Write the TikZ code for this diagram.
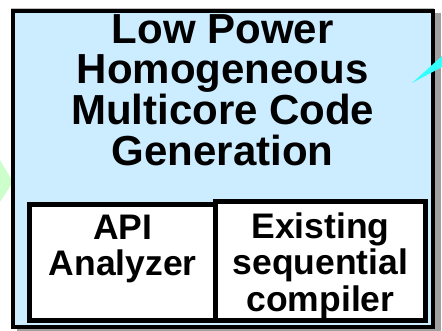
\documentclass[tikz,border=0pt]{standalone}
\usepackage{fontspec}
\setmainfont{Liberation Sans}
\usetikzlibrary{positioning}

\definecolor{paleblue}{RGB}{204,236,255}
\definecolor{palegreen}{RGB}{204,255,204}
\definecolor{brightcyan}{RGB}{51,255,255}
\definecolor{shadowgray}{RGB}{160,160,160}

\tikzset{
  outerbox/.style={draw=black, line width=4pt, fill=paleblue, inner sep=0pt, outer sep=0pt, anchor=north west},
  innerbox/.style={draw=black, line width=4.2pt, fill=white, inner sep=0pt, outer sep=0pt, anchor=north west},
  titletext/.style={align=center, inner sep=0pt, anchor=north, font=\fontsize{42}{40.7}\selectfont\bfseries},
  boxtext/.style={align=center, inner sep=0pt, anchor=north, font=\fontsize{35.5}{36.5}\selectfont\bfseries}
}

\begin{document}
\begin{tikzpicture}[x=1pt,y=-1pt]
    \useasboundingbox (0,0) rectangle (442,331);

    % arrow head coming in from the left
    \fill[palegreen] (0,160) -- (13,182) -- (0,202) -- cycle;

    % shadow of the big box
    \draw[lightgray, line width=0.8pt] (11,8) -- (434,8);
    \fill[shadowgray] (17,13) rectangle (441,340);

    % the big box and its title
    \node[outerbox, minimum width=419.5pt, minimum height=316pt] (codegen) at (13,11) {};
    \node[titletext] (title) at (222.7,14) {Low Power\\Homogeneous\\Multicore Code\\Generation};

    % the two parts inside
    \node[innerbox, minimum width=186.5pt, minimum height=116pt] (api) at (29.5,204.5) {};
    \node[innerbox, minimum width=210pt, minimum height=119pt] (seqcomp) at (215.5,201.5) {};
    \node[boxtext, below=10pt of api.north] (apitext) {API\\Analyzer};
    \node[boxtext, below=11pt of seqcomp.north] (seqtext) {Existing\\sequential\\compiler};

    % arrow head coming in from the right
    \fill[brightcyan] (412,83) -- (442,56) -- (442,67) -- cycle;
\end{tikzpicture}
\end{document}
